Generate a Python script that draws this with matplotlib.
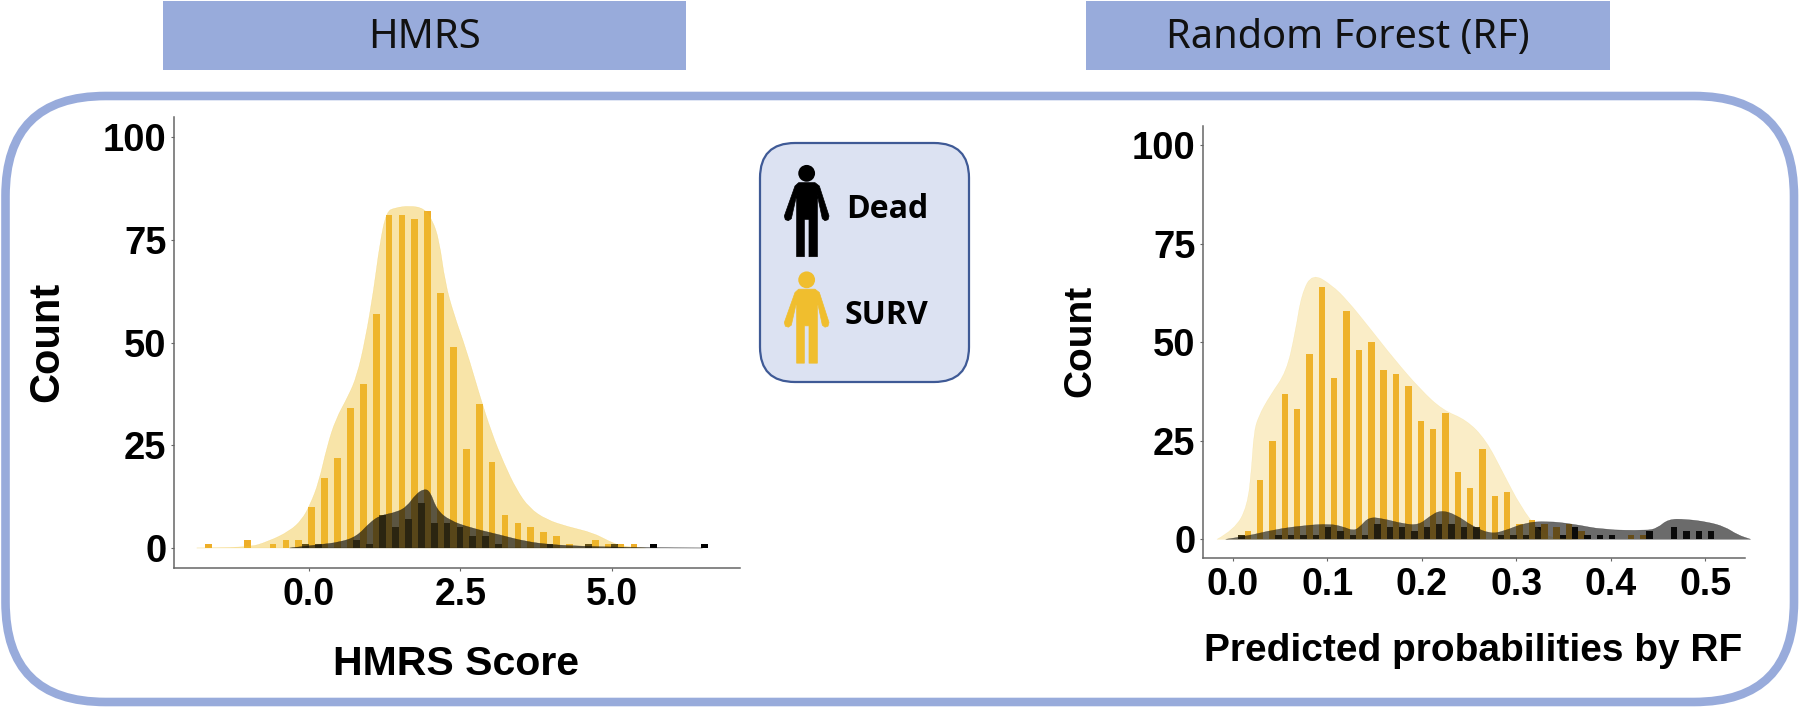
import matplotlib
matplotlib.use("Agg")
import matplotlib.pyplot as plt
import numpy as np
from matplotlib.patches import FancyBboxPatch, Rectangle, Circle, Polygon, PathPatch
from matplotlib.path import Path

W, H = 1800, 707
BAR = "#EEAE28"
DENS = "#EFC030"
FRAME = "#98ABDB"
SANS = "Liberation Sans"

# ---------- HMRS panel data ----------
hmrs_surv_bins = [-8, -5, -3, -2, -1, 0, 1, 2, 3, 4, 5, 6, 7, 8, 9, 10, 11, 12, 13, 14,
                  15, 16, 17, 18, 19, 20, 22, 23, 24, 25]
hmrs_surv_counts = [1, 2, 1, 2, 2, 10, 17, 22, 34, 40, 57, 81, 81, 80, 82, 62, 49, 24, 35, 21,
                    8, 6, 5, 4, 3, 1, 2, 1, 1, 1]
hmrs_dead_bins = [-1, 0, 3, 4, 5, 6, 7, 8, 9, 10, 11, 12, 13, 14, 18, 21, 23, 26, 30]
hmrs_dead_counts = [1, 1, 2, 1, 8, 5, 7, 11, 6, 6, 5, 3, 3, 1, 1, 1, 1, 1, 1]
hmrs_bin_start = 0.045
hmrs_bin_width = 0.2129

hmrs_surv_dens_x = [-1.855, -1.02, -0.67, -0.32, -0.115, 0.02, 0.16, 0.30, 0.44, 0.65, 0.79, 0.93,
                    1.07, 1.17, 1.28, 1.42, 1.66, 1.90, 2.04, 2.15, 2.25, 2.39, 2.60, 2.81, 3.02,
                    3.22, 3.43, 3.64, 3.92, 4.27, 4.69, 4.96, 5.17, 5.56]
hmrs_surv_dens_y = [0, 0, 1.6, 4.1, 6.9, 10.6, 15.9, 24.8, 31.3, 37, 41.8, 50.7,
                    62.9, 74.2, 81.9, 82.8, 83.3, 82.7, 79.8, 75, 64.5, 57, 48.2, 37.6, 27.9,
                    20.6, 14.1, 9.7, 6.9, 5.2, 3.7, 1.6, 0.4, 0]
hmrs_dead_dens_x = [-0.32, 0.16, 0.51, 0.79, 1.0, 1.17, 1.45, 1.62, 1.76, 1.9, 2.0, 2.11, 2.32,
                    2.67, 3.15, 3.57, 3.99, 4.55, 5.03, 5.59, 6.5]
hmrs_dead_dens_y = [0, 0.8, 1.4, 2.8, 6.1, 7.9, 8.7, 10.1, 13, 14.4, 13.8, 9.3, 6.7,
                    4.9, 3.2, 1.6, 0.8, 0.4, 0.25, 0.05, 0]

# ---------- Random Forest panel data ----------
rf_surv_bins = list(range(0, 28)) + [31, 32]
rf_surv_counts = [2, 15, 25, 37, 33, 47, 64, 41, 58, 48, 50, 43, 42, 39, 30, 28, 32, 17, 13, 23,
                  11, 12, 4, 5, 4, 3, 4, 2, 1, 1]
rf_dead_bins = [-1, 2, 3, 4, 5, 6, 7, 8, 9, 10, 11, 12, 13, 14, 15, 16, 17, 18, 20, 21, 22, 23,
                25, 26, 27, 28, 29, 32, 34, 35, 36, 37]
rf_dead_counts = [1, 1, 1, 1, 1, 3, 2, 1, 1, 4, 3, 3, 2, 3, 4, 4, 3, 3, 1, 1, 1, 3,
                  1, 3, 1, 1, 1, 2, 3, 2, 2, 2]
rf_bin_start = 0.0156
rf_bin_width = 0.01308

rf_surv_dens_x = [-0.017, 0.0014, 0.0152, 0.0198, 0.022, 0.0266, 0.0395, 0.0565, 0.0657, 0.0726,
                  0.0841, 0.1047, 0.1208, 0.1438, 0.1713, 0.1989, 0.2219, 0.2471, 0.2678, 0.2862,
                  0.3045, 0.3229, 0.3367, 0.3643]
rf_surv_dens_y = [0, 2.4, 8.3, 18.5, 26.9, 31.1, 36.6, 42.5, 52.3, 62.4,
                  67.5, 64.5, 60.7, 53.9, 45.5, 37.9, 32.8, 30.3, 25.2, 16.7,
                  8.3, 2.4, 0.3, 0]
rf_dead_dens_x = [-0.0078, 0.0152, 0.0427, 0.0749, 0.1024, 0.1162, 0.1277, 0.1346, 0.1438, 0.1576,
                  0.1805, 0.1966, 0.2081, 0.2196, 0.2356, 0.254, 0.2724, 0.2862, 0.3091, 0.3321,
                  0.3597, 0.3918, 0.4378, 0.4492, 0.4607, 0.4791, 0.5021, 0.5204, 0.5342, 0.548]
rf_dead_dens_y = [0, 0.8, 2.4, 3.5, 3.9, 3.2, 2.1, 3.2, 5.6, 5.3,
                  3.9, 3.6, 5.8, 7.4, 6.3, 3.2, 1.4, 2, 4.2, 4.6,
                  3.9, 2.4, 2.2, 2.8, 5.1, 5.1, 4.4, 3.2, 1.1, 0]

y_ticks = [0, 25, 50, 75, 100]
hmrs_x_ticks = [0.0, 2.5, 5.0]
rf_x_ticks = [0.0, 0.1, 0.2, 0.3, 0.4, 0.5]

fig = plt.figure(figsize=(W / 100, H / 100), dpi=100, facecolor="white")

# page-level layer in pixel coordinates
bg = fig.add_axes([0, 0, 1, 1], zorder=0)
bg.set_xlim(0, W)
bg.set_ylim(H, 0)
bg.axis("off")

bg.add_patch(FancyBboxPatch((5.5 + 100, 96 + 100), 1788.5 - 200, 606 - 200,
                            boxstyle="round,pad=100,rounding_size=100",
                            fc="white", ec=FRAME, lw=6.2))
bg.add_patch(Rectangle((163, 1), 523, 69, fc=FRAME, ec="none"))
bg.add_patch(Rectangle((1086, 1), 524, 69, fc=FRAME, ec="none"))
bg.text(424, 38, "HMRS", fontsize=28.8, family="Noto Sans", ha="center", va="center", color="#111111")
bg.text(1348, 38, "Random Forest (RF)", fontsize=28.6, family="Noto Sans", ha="center", va="center", color="#111111")

# legend card
bg.add_patch(FancyBboxPatch((760 + 35, 143 + 35), 209 - 70, 239 - 70,
                            boxstyle="round,pad=35,rounding_size=35",
                            fc="#DCE2F2", ec="#3F5A96", lw=1.6))


def person(dy, color):
    outline = [(165, 168), (176, 158), (225, 158), (238, 168), (267, 258), (264, 269), (255, 272),
               (247, 266), (232, 195), (232, 380), (207, 380), (207, 268), (193, 268), (193, 380),
               (170, 380), (170, 195), (154, 266), (145, 272), (136, 269), (133, 258)]
    pts = [(740 + x / 3, 130 + y / 3 + dy) for x, y in outline]
    bg.add_patch(Polygon(pts, closed=True, fc=color, ec=color, lw=0.5, joinstyle="round"))
    bg.add_patch(Circle((740 + 200 / 3, 130 + 130 / 3 + dy), 8.4, fc=color, ec="none"))


person(0, "black")
person(106.5, "#F0BE2E")
bg.text(846, 210, "Dead", fontsize=23, family="Open Sans", weight="bold", va="center", color="black")
bg.text(845, 316, "SURV", fontsize=23, family="Open Sans", weight="bold", va="center", color="black")


def density_patch(ax, xs, ys, color, alpha, lw, zorder):
    """Smooth outline through the read density values."""
    p = list(zip(xs, ys))
    verts, codes = [p[0]], [Path.MOVETO]
    for i in range(1, len(p) - 1):
        mid = ((p[i][0] + p[i + 1][0]) / 2, (p[i][1] + p[i + 1][1]) / 2)
        verts += [p[i], mid]
        codes += [Path.CURVE3, Path.CURVE3]
    verts += [p[-1], p[0]]
    codes += [Path.LINETO, Path.CLOSEPOLY]
    ax.add_patch(PathPatch(Path(verts, codes), fc=color, ec=color, alpha=alpha, lw=lw,
                           zorder=zorder, clip_on=False))


def make_panel(box, xlim, ylim, xticks, fmt, start, width,
               sb, sc, db, dc, sx, sy, dx, dy, dens_alpha, dead_alpha):
    l, r, t, b = box
    ax = fig.add_axes([l / W, 1 - b / H, (r - l) / W, (b - t) / H], zorder=1)
    ax.patch.set_alpha(0)
    bw = width * 0.52
    ax.bar(start + width * np.array(sb), sc, width=bw, color=BAR, lw=0, zorder=2)
    ax.bar(start + width * (np.array(db) + 0.5), dc, width=bw, color="black", lw=0, zorder=2)
    density_patch(ax, sx, sy, DENS, dens_alpha, 0.25, 3)
    density_patch(ax, dx, dy, "#111111", dead_alpha, 0.25, 4)
    ax.set_xlim(*xlim)
    ax.set_ylim(*ylim)
    ax.set_xticks(xticks)
    ax.set_xticklabels([fmt % v for v in xticks], fontsize=27, family=SANS, weight="bold")
    ax.set_yticks(y_ticks)
    ax.set_yticklabels([str(v) for v in y_ticks], fontsize=27.5, family=SANS, weight="bold")
    ax.tick_params(axis="x", length=2.2, width=0.8, color="#666666", pad=4.5)
    ax.tick_params(axis="y", length=2.2, width=0.8, color="#666666", pad=3.2)
    for s in ("top", "right"):
        ax.spines[s].set_visible(False)
    for s in ("left", "bottom"):
        ax.spines[s].set_color("#666666")
        ax.spines[s].set_linewidth(1.1)
    return ax


make_panel((174, 740, 117, 568), (-2.23, 7.12), (-4.87, 104.9), hmrs_x_ticks, "%.1f",
           hmrs_bin_start, hmrs_bin_width, hmrs_surv_bins, hmrs_surv_counts,
           hmrs_dead_bins, hmrs_dead_counts, hmrs_surv_dens_x, hmrs_surv_dens_y,
           hmrs_dead_dens_x, hmrs_dead_dens_y, 0.42, 0.68)
make_panel((1203, 1745, 126, 558), (-0.0318, 0.542), (-4.75, 104.9), rf_x_ticks, "%.1f",
           rf_bin_start, rf_bin_width, rf_surv_bins, rf_surv_counts,
           rf_dead_bins, rf_dead_counts, rf_surv_dens_x, rf_surv_dens_y,
           rf_dead_dens_x, rf_dead_dens_y, 0.27, 0.62)

# axis titles
tx = fig.add_axes([0, 0, 1, 1], zorder=2)
tx.set_xlim(0, W)
tx.set_ylim(H, 0)
tx.axis("off")
tx.text(47, 342, "Count", fontsize=30, family=SANS, weight="bold", rotation=90, ha="center", va="center")
tx.text(1080, 341, "Count", fontsize=28, family=SANS, weight="bold", rotation=90, ha="center", va="center")
tx.text(456, 675, "HMRS Score", fontsize=29.5, family=SANS, weight="bold", ha="center", va="baseline")
tx.text(1473, 661, "Predicted probabilities by RF", fontsize=28, family=SANS, weight="bold", ha="center", va="baseline")

fig.savefig("out.png", dpi=100, facecolor="white")
